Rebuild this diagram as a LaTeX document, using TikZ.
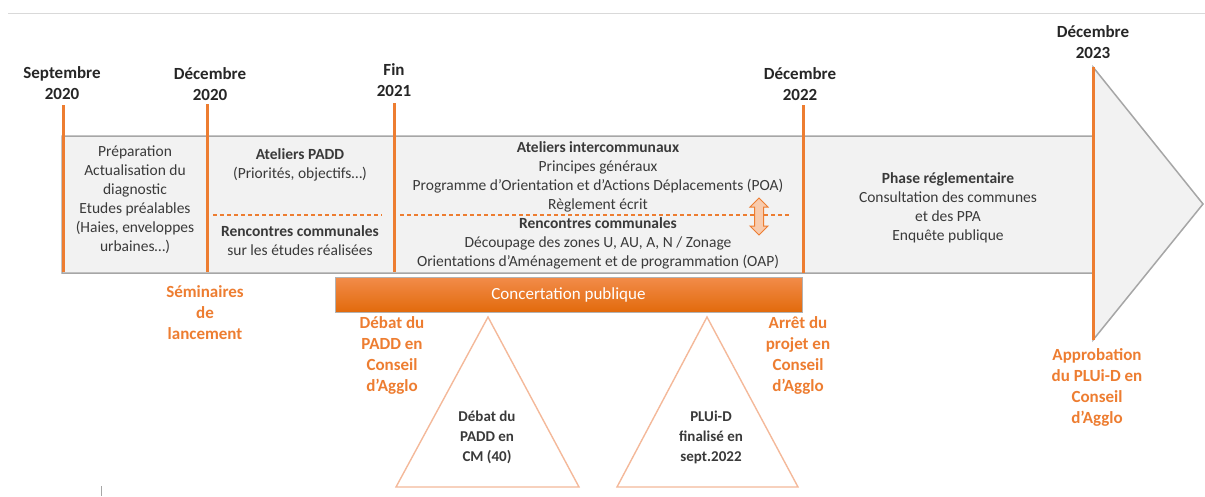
\documentclass[tikz,border=0pt]{standalone}
\usepackage{fontspec}
\setmainfont{Carlito}
\definecolor{orangeplui}{HTML}{ED7D31}
\definecolor{orangeclair}{HTML}{F8CBAD}
\definecolor{orangetri}{HTML}{F4B99A}
\definecolor{orangehaut}{HTML}{F28C4A}
\definecolor{orangebas}{HTML}{E26A0C}
\definecolor{fondgris}{HTML}{F2F2F2}
\definecolor{bordgris}{HTML}{A6A6A6}
\definecolor{texte}{HTML}{3A3A3A}

\begin{document}
\begin{tikzpicture}[x=1pt,y=-1pt]
\tikzset{datelabel/.style = {align=center, font=\fontsize{17}{21}\selectfont\bfseries, text=black!85}}
\tikzset{jalon/.style = {draw=orangeplui, line width=3pt}}
\tikzset{bloc/.style = {align=center, font=\fontsize{15.5}{19}\selectfont, text=texte}}
\tikzset{etape/.style = {align=center, font=\fontsize{17}{21}\selectfont\bfseries, text=orangeplui}}
\tikzset{tri/.style = {draw=orangetri, line width=1.4pt, fill=white}}
\tikzset{pointille/.style = {draw=orangeplui, line width=1.3pt, dash pattern=on 4pt off 3pt}}
\useasboundingbox (0,0) rectangle (1205,496);

%frame
\draw[black!15, line width=1pt] (8,13) -- (1205,13);
\draw[black!35, line width=1pt] (101,486) -- (101,496);

%main arrow
\draw[fill=fondgris, draw=bordgris, line width=1.5pt]
  (62,136) -- (1093,136) -- (1093,67) -- (1203,204) -- (1093,340)
  -- (1093,273) -- (62,273) -- cycle;

%dates
\node[datelabel] (sep20) at (62,83) {Septembre\\2020};
\node[datelabel] (dec20) at (210,84) {Décembre\\2020};
\node[datelabel] (fin21) at (394,80) {Fin\\2021};
\node[datelabel] (dec22) at (800,84) {Décembre\\2022};
\node[datelabel] (dec23) at (1093,42) {Décembre\\2023};

\draw[jalon] (63,105) -- (63,272);
\draw[jalon] (207,104) -- (207,272);
\draw[jalon] (394,103) -- (394,272);
\draw[jalon] (803,105) -- (803,273);
\draw[jalon] (1093,67) -- (1093,340);

%phases
\node[bloc] (prep) at (135,200) {Préparation\\Actualisation du\\diagnostic\\Etudes préalables\\(Haies, enveloppes\\urbaines…)};
\node[bloc] (padd) at (300,165) {\textbf{Ateliers PADD}\\(Priorités, objectifs…)};
\node[bloc] (renc1) at (300,241) {\textbf{Rencontres communales}\\sur les études réalisées};
\node[bloc] (inter) at (598,177) {\textbf{Ateliers intercommunaux}\\Principes généraux\\Programme d’Orientation et d’Actions Déplacements (POA)\\Règlement écrit};
\node[bloc] (renc2) at (598,243) {\textbf{Rencontres communales}\\Découpage des zones U, AU, A, N / Zonage\\Orientations d’Aménagement et de programmation (OAP)};
\node[bloc] (regl) at (948,208) {\textbf{Phase réglementaire}\\Consultation des communes\\et des PPA\\Enquête publique};

\draw[pointille] (213,215) -- (382,215);
\draw[pointille] (400,215) -- (790,215);
\draw[fill=orangeclair, draw=orangeplui, line width=1pt]
  (759,198) -- (768,207) -- (763.5,207) -- (763.5,226) -- (768,226) -- (759,235)
  -- (750,226) -- (754.5,226) -- (754.5,207) -- (750,207) -- cycle;

%concertation
\node[draw=black!30, top color=orangehaut, bottom color=orangebas,
  minimum width=467pt, minimum height=35pt, inner sep=0pt, text=white,
  font=\fontsize{17}{20}\selectfont] (concert) at (568.5,294.5) {Concertation publique};

%milestones
\node[etape] (semin) at (205,313) {Séminaires\\de\\lancement};
\node[etape] (debat) at (392,355) {Débat du\\PADD en\\Conseil\\d’Agglo};
\node[etape] (arret) at (798,355) {Arrêt du\\projet en\\Conseil\\d’Agglo};
\node[etape] (appro) at (1097,387) {Approbation\\du PLUi-D en\\Conseil\\d’Agglo};

%triangles
\draw[tri] (488,317) -- (579,487) -- (396,487) -- cycle;
\draw[tri] (707,317) -- (798,487) -- (617,487) -- cycle;
\node[bloc, font=\fontsize{15}{20}\selectfont\bfseries] (cm) at (487,437) {Débat du\\PADD en\\CM (40)};
\node[bloc, font=\fontsize{15}{20}\selectfont\bfseries] (fin) at (711,437) {PLUi-D\\finalisé en\\sept.2022};
\end{tikzpicture}
\end{document}
